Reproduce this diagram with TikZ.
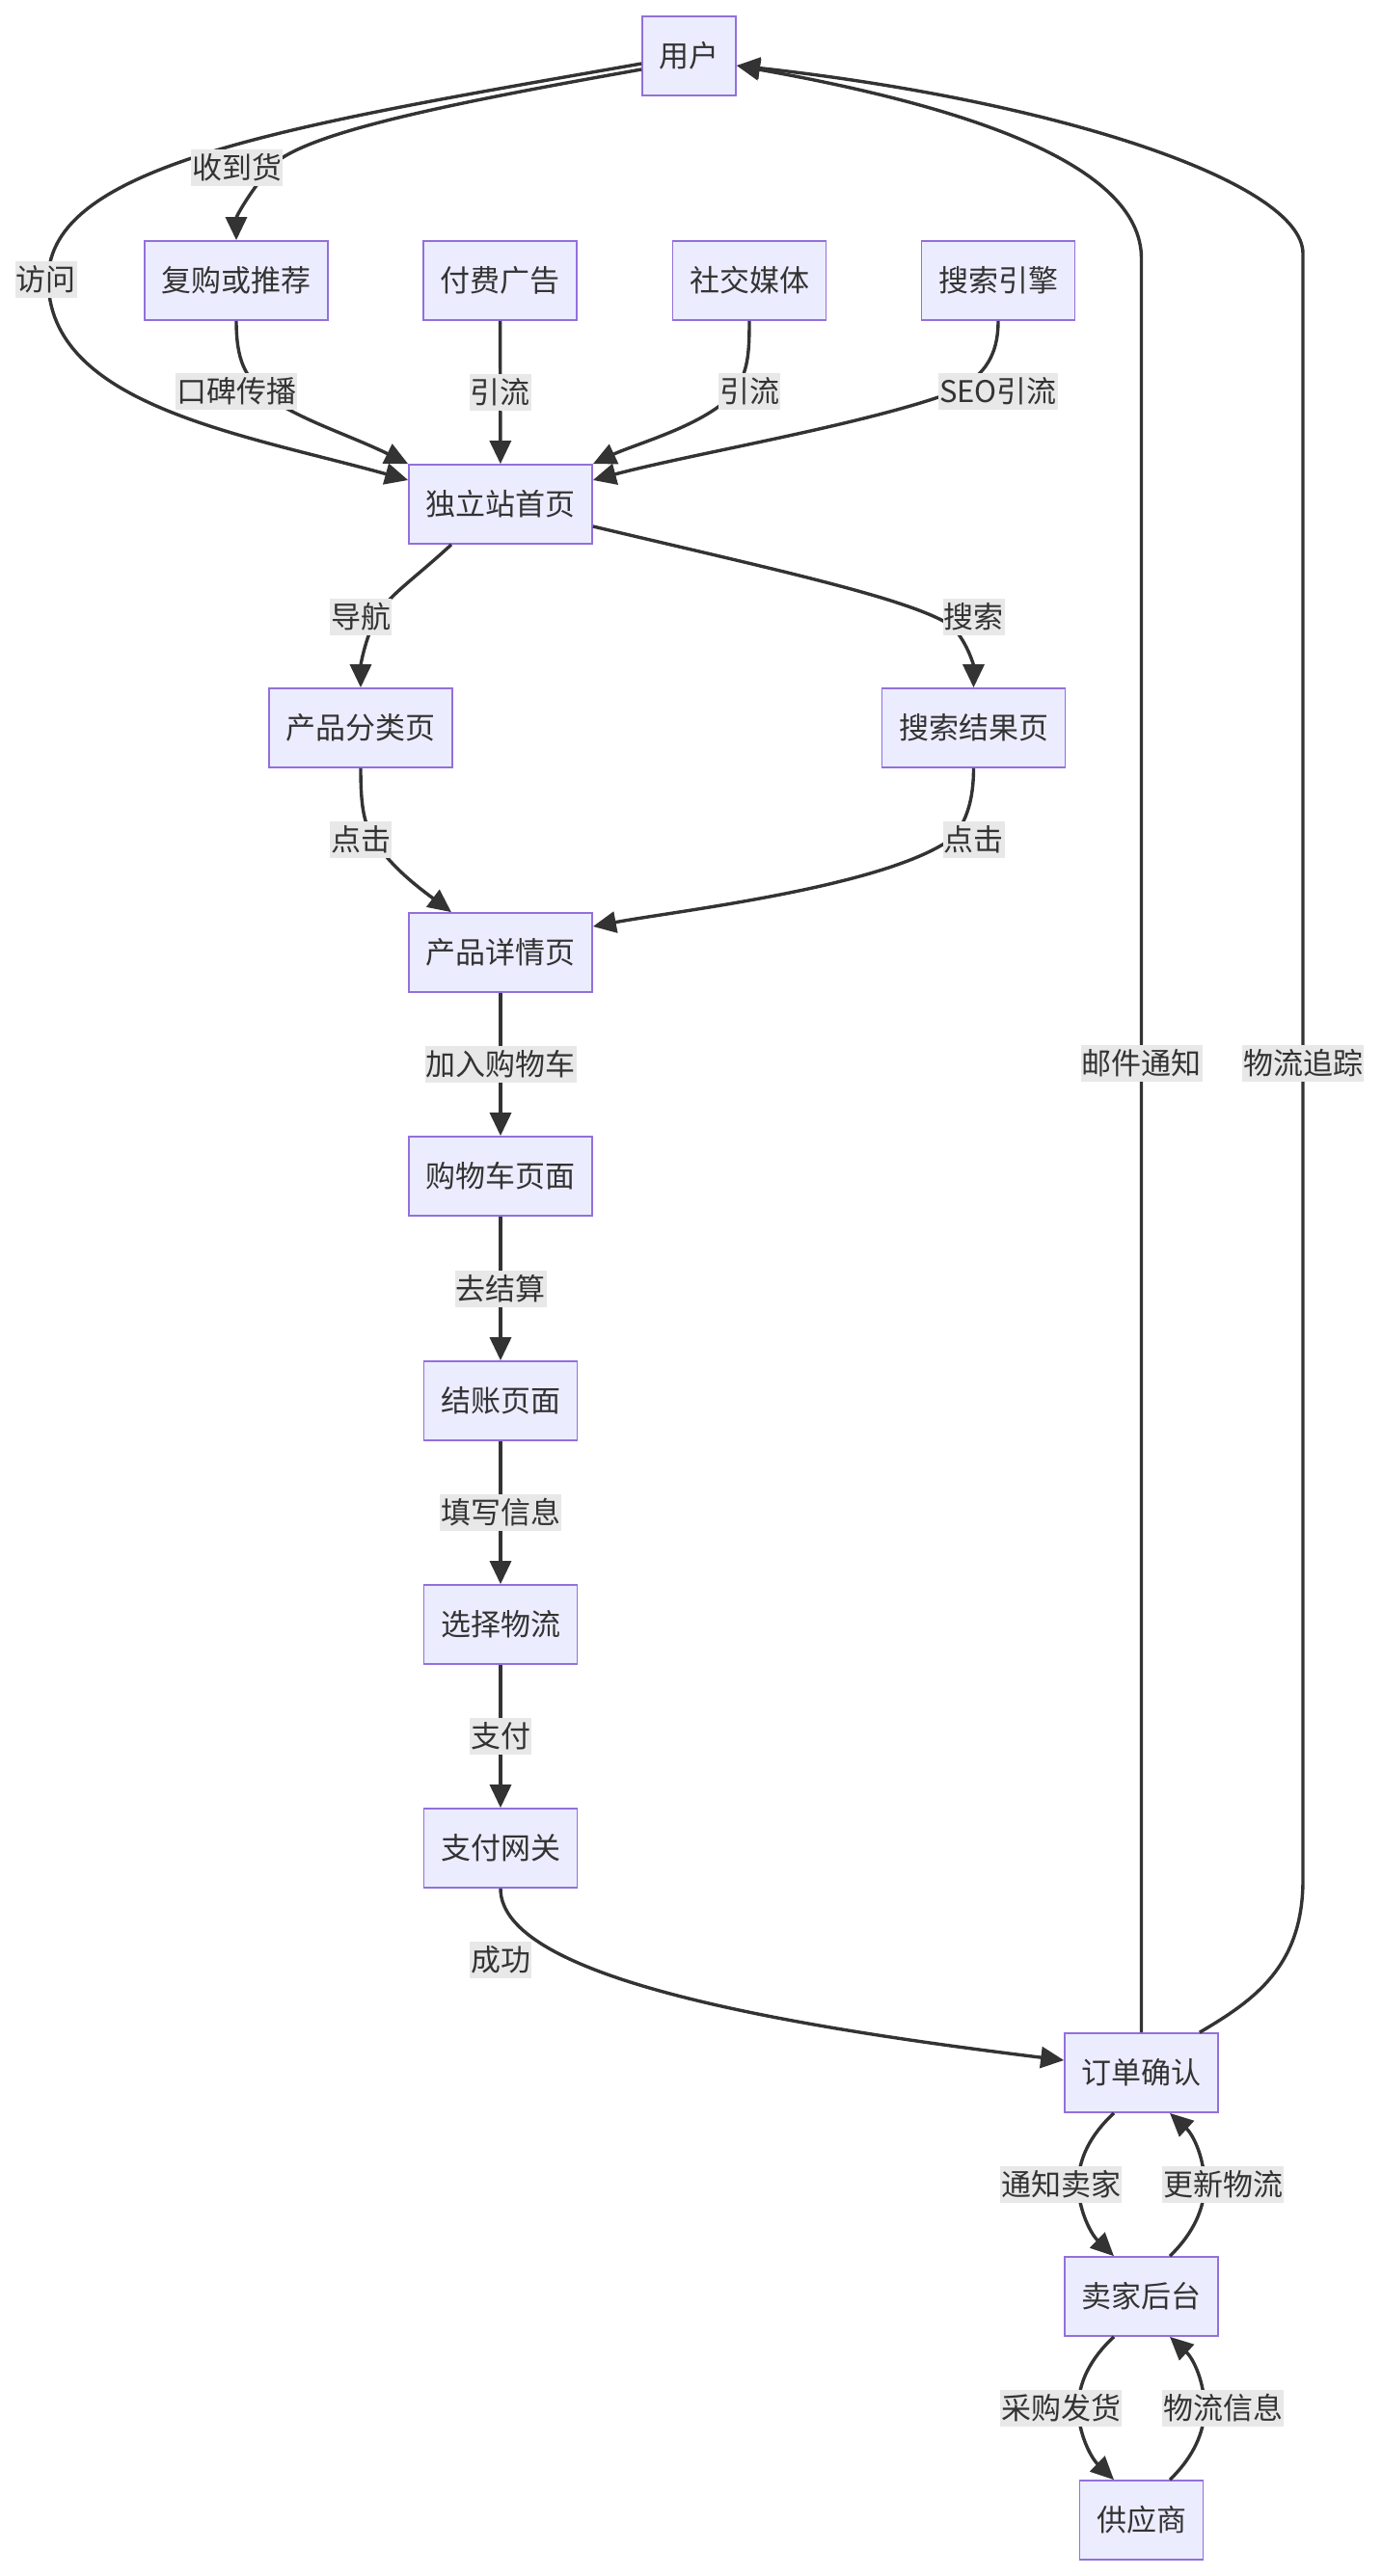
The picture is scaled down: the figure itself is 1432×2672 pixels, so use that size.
\documentclass[tikz,border=0pt]{standalone}
\usepackage{fontspec}
\setmainfont{Noto Sans CJK SC}
\usetikzlibrary{arrows.meta,calc}
\definecolor{boxfill}{HTML}{ECECFF}
\definecolor{boxline}{HTML}{9370DB}
\definecolor{lineclr}{HTML}{333333}
\definecolor{txtclr}{HTML}{333333}
\definecolor{lblfill}{HTML}{E8E8E8}
\newcommand\dfont{\fontsize{15.5pt}{18pt}\selectfont}
\tikzset{
  box/.style={draw=boxline, fill=boxfill, line width=0.85pt, minimum height=41pt,
    inner xsep=8.75pt, inner ysep=0pt, text=txtclr, font=\dfont},
  lbl/.style={fill=lblfill, inner xsep=0.5pt, inner ysep=0pt, minimum height=19pt,
    text=txtclr, font=\dfont},
  conn/.style={draw=lineclr, line width=1.7pt, -{Triangle[length=12pt,width=11pt]}}
}
\begin{document}
\begin{tikzpicture}[x=0.5pt,y=-0.5pt]
\fill[white] (0,0) rectangle (1432,2672);
\useasboundingbox (0,0) rectangle (1432,2672);

% nodes
\node[box] (user) at (714.5,58) {用户};
\node[box] (rebuy) at (245,291) {复购或推荐};
\node[box] (ads) at (518.5,291) {付费广告};
\node[box] (social) at (777,291) {社交媒体};
\node[box] (seo) at (1035,291) {搜索引擎};
\node[box] (home) at (519,523) {独立站首页};
\node[box] (cat) at (374,755) {产品分类页};
\node[box] (sres) at (1009.5,755) {搜索结果页};
\node[box] (detail) at (519,988) {产品详情页};
\node[box] (cart) at (519,1220) {购物车页面};
\node[box] (checkout) at (519,1453) {结账页面};
\node[box] (ship) at (519,1685) {选择物流};
\node[box] (pay) at (519,1917) {支付网关};
\node[box] (order) at (1183.5,2150) {订单确认};
\node[box] (seller) at (1183.5,2382) {卖家后台};
\node[box] (supplier) at (1183.5,2614) {供应商};

% edges
\draw[conn] ($(user.west)+(0,8)$) .. controls (300,130) and (50,170) .. (50,290)
  node[lbl] at (48,290) {访问}
  .. controls (50,420) and (250,450) .. ($(home.west)+(0,-25)$);
\draw[conn] ($(user.west)+(0,14)$) .. controls (450,110) and (310,140) .. (280,174)
  node[lbl] at (245.5,174) {收到货}
  .. controls (255,205) and (245,225) .. (rebuy.north);
\draw[conn] (rebuy.south) .. controls (245,375) and (255,390) .. (272,406)
  node[lbl] at (245,406) {口碑传播}
  .. controls (300,432) and (360,450) .. (home.north west);
\draw[conn] (ads) -- node[lbl] {引流} (home);
\draw[conn] (social.south) .. controls (777,370) and (775,385) .. (762,406)
  node[lbl] at (777,406) {引流}
  .. controls (735,440) and (660,460) .. (home.north east);
\draw[conn] (seo.south) .. controls (1035,375) and (1015,392) .. (990,406)
  node[lbl] at (1035,406) {SEO引流}
  .. controls (900,440) and (720,470) .. ($(home.east)+(0,-25)$);
\draw[conn] ($(home.south)+(-51,0)$) .. controls (430,600) and (400,620) .. (390,640)
  node[lbl] at (374,640) {导航}
  .. controls (378,665) and (374,690) .. (cat.north);
\draw[conn] ($(home.east)+(0,23)$) .. controls (800,590) and (940,620) .. (985,648)
  node[lbl] at (1009.5,640) {搜索}
  .. controls (1002,663) and (1009.5,690) .. (sres.north);
\draw[conn] (cat.south) .. controls (374,840) and (378,855) .. (388,871)
  node[lbl] at (374,871) {点击}
  .. controls (405,900) and (440,925) .. ($(detail.north)+(-51,0)$);
\draw[conn] (sres.south) .. controls (1009.5,830) and (1002,852) .. (988,869)
  node[lbl] at (1009.5,871) {点击}
  .. controls (920,920) and (700,945) .. ($(detail.east)+(0,-27)$);
\draw[conn] (detail) -- node[lbl] {加入购物车} (cart);
\draw[conn] (cart) -- node[lbl] {去结算} (checkout);
\draw[conn] (checkout) -- node[lbl] {填写信息} (ship);
\draw[conn] (ship) -- node[lbl] {支付} (pay);
\draw[conn] (pay.south) .. controls (519,2050) and (800,2100) .. ($(order.west)+(0,-13)$)
  node[lbl] at (519,2033) {成功};
\draw[conn] (order.north) -- (1183.5,1103)
  node[lbl] at (1183.5,1103) {邮件通知}
  -- (1183.5,268) .. controls (1183.5,170) and (1000,110) .. ($(user.east)+(0,10)$);
\draw[conn] ($(order.north east)+(-20,0)$) .. controls (1300,2075) and (1351,2040) .. (1351,1950)
  -- (1351,1103) node[lbl] at (1351,1103) {物流追踪}
  -- (1351,263) .. controls (1351,190) and (1100,105) .. ($(user.east)+(0,10)$);
\draw[conn] ($(order.south)+(-28.5,0)$) .. controls (1130,2215) and (1118,2240) .. (1118,2266)
  node[lbl] at (1100,2266) {通知卖家}
  .. controls (1118,2290) and (1130,2316) .. ($(seller.north)+(-28.5,0)$);
\draw[conn] ($(seller.north)+(29.5,0)$) .. controls (1238,2316) and (1249,2290) .. (1249,2266)
  node[lbl] at (1268,2266) {更新物流}
  .. controls (1249,2240) and (1238,2215) .. ($(order.south)+(29.5,0)$);
\draw[conn] ($(seller.south)+(-28.5,0)$) .. controls (1130,2447) and (1118,2472) .. (1118,2498)
  node[lbl] at (1100,2498) {采购发货}
  .. controls (1118,2522) and (1130,2548) .. ($(supplier.north)+(-28.5,0)$);
\draw[conn] ($(supplier.north)+(29.5,0)$) .. controls (1238,2548) and (1249,2522) .. (1249,2498)
  node[lbl] at (1268,2498) {物流信息}
  .. controls (1249,2472) and (1238,2447) .. ($(seller.south)+(29.5,0)$);
\end{tikzpicture}
\end{document}
